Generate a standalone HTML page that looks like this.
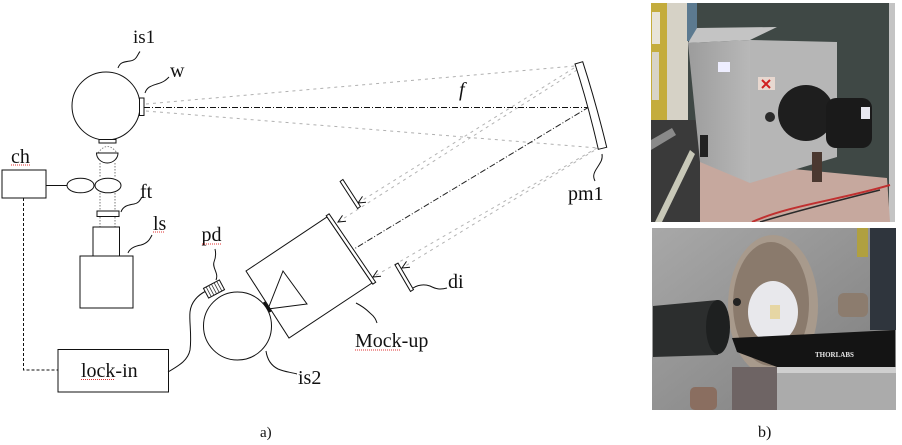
<!DOCTYPE html>
<html><head><meta charset="utf-8"><style>
html,body{margin:0;padding:0;background:#fff;}
svg{display:block;}
text{font-family:"Liberation Serif",serif;fill:#111;}
</style></head><body>
<svg width="902" height="445" viewBox="0 0 902 445" xmlns="http://www.w3.org/2000/svg">
<defs>
<clipPath id="c1"><rect x="651" y="3" width="244" height="219"/></clipPath>
<clipPath id="c2"><rect x="652" y="228" width="244" height="182"/></clipPath>
<linearGradient id="g2" x1="0" y1="0" x2="1" y2="1"><stop offset="0" stop-color="#a8a8a8"/><stop offset="1" stop-color="#7c7c7c"/></linearGradient>
<linearGradient id="gb" x1="0" y1="0" x2="1" y2="0"><stop offset="0" stop-color="#9c9c9c"/><stop offset="1" stop-color="#b8b8b8"/></linearGradient>
</defs>
<rect width="902" height="445" fill="#fff"/>

<!-- rays w -> mirror -->
<g fill="none" stroke-width="1">
<path d="M146,104 L575,66" stroke="#b0b0b0" stroke-dasharray="3 4"/>
<path d="M146,111 L598,148" stroke="#b0b0b0" stroke-dasharray="3 4"/>
<path d="M144,107.5 L588,107.5" stroke="#111" stroke-dasharray="6 2 1 2"/>
<!-- reflected -->
<path d="M574,68 L358,203" stroke="#b4b4b4" stroke-dasharray="3 4"/>
<path d="M577,70 L338,222" stroke="#b4b4b4" stroke-dasharray="3 4"/>
<path d="M597,148 L373,277" stroke="#b4b4b4" stroke-dasharray="3 4"/>
<path d="M600,147 L402,268" stroke="#b4b4b4" stroke-dasharray="3 4"/>
<path d="M589,107 L354,249" stroke="#222" stroke-dasharray="6 2 1 2"/>
</g>

<g fill="none" stroke="#111" stroke-width="1">
<!-- arrowheads -->
<path d="M366,202.2 L358,203 L362.5,196.4"/>
<path d="M346,221.2 L338,222 L342.5,215.4"/>
<path d="M381,276.2 L373,277 L377.5,270.4"/>
<path d="M410,267.2 L402,268 L406.5,261.4"/>

<!-- pm1 mirror -->
<path d="M575,64 Q588,104 598.3,149.3 L606.7,147.3 Q596,103 582.7,61.7 Z" fill="#fff"/>

<!-- is1 -->
<circle cx="106" cy="106" r="34" fill="#fff"/>
<rect x="139.5" y="98" width="4.5" height="17.5" fill="#fff"/>
<rect x="99" y="139.5" width="17" height="3.5" fill="#fff"/>
<!-- lens -->
<path d="M98,153 Q107.5,140 117,153" stroke="#888" stroke-dasharray="1.5 1.5"/>
<path d="M96.5,153 L118,153 A10.75,10 0 0 1 96.5,153 Z" fill="#fff"/>
<!-- dotted beams -->
<g stroke="#777" stroke-dasharray="1.5 1.5">
<path d="M100,163 V178 M115,163 V178 M100,193 V211 M115,193 V211 M100,217 V227 M115,217 V227"/>
</g>
<ellipse cx="80.5" cy="185.5" rx="13.5" ry="7.3"/>
<ellipse cx="108" cy="185.5" rx="13" ry="7.3"/>
<path d="M45.7,185.5 L67,185.5"/>
<rect x="2" y="170" width="44" height="28"/>
<path d="M23.5,198 V370 H58" stroke-dasharray="3 2"/>
<rect x="97" y="211" width="22" height="5.5"/>
<rect x="93" y="227" width="26.5" height="29"/>
<rect x="80" y="256" width="53" height="52"/>
<rect x="58" y="349.5" width="110.5" height="42.5"/>
<path d="M168,372 C180,365 188,360 190,350 C192,335 189,322 190,312 C191,302 198,295 206,291"/>

<!-- is2 -->
<circle cx="237.5" cy="326" r="34"/>
<!-- pd -->
<g transform="translate(214,289) rotate(-28)">
<rect x="-9" y="-5.5" width="18" height="11" fill="#fff"/>
<path d="M-6,-5.5 L-6,5.5 M-3,-5.5 L-3,5.5 M0,-5.5 L0,5.5 M3,-5.5 L3,5.5 M6,-5.5 L6,5.5" stroke="#333" stroke-width="0.8"/>
</g>

<!-- mock-up -->
<polygon points="246,271 327,217 372,283 289,338" fill="#fff"/>
<polygon points="326.2,215.8 329.1,213.8 375.7,282.2 372.8,284.2" fill="#fff"/>
<polygon points="283,271 307,304 268,309"/>
<path d="M264,302 L270.5,312" stroke-width="2.5"/>

<!-- di plates -->
<polygon points="340.1,181.5 342.9,179.5 360.4,206.5 357.6,208.5" fill="#fff"/>
<polygon points="395,264.9 398,263.1 413.5,289.6 410.5,291.4" fill="#fff"/>

<!-- leaders -->
<path d="M118,68 C120,62 124,62 130,61 C137,60 137,55 140,51.5"/>
<path d="M145,93 C147,87 151,86 157,84 C164,82 166,80 169,77"/>
<path d="M121,212 C123,206 128,205 134,204 C139,203 140,200 142,197"/>
<path d="M128,253 C130,248 135,246 141,245 C148,243 150,239 152,235"/>
<path d="M216,280 C219,273 212,268 214,262 C216,257 216,253 215,249"/>
<path d="M356,303 C362,306 366,309 370,313 C375,317 376,320 377,323"/>
<path d="M266,351 C267,358 270,365 278,369 C285,372 290,372 297,374"/>
<path d="M413,288 C418,285 424,284 430,286 C436,289 440,290 447,288"/>
<path d="M602,154 C603,160 600,163 597,168 C593,174 593,177 595,181"/>
</g>

<!-- labels -->
<g font-size="20">
<text x="133" y="43" font-size="19">is1</text>
<text x="170" y="77">w</text>
<text x="11" y="163">ch</text>
<text x="140" y="198">ft</text>
<text x="153" y="230">ls</text>
<text x="201.5" y="241">pd</text>
<text x="81" y="377">lock-in</text>
<text x="355" y="347">Mock-up</text>
<text x="298" y="384">is2</text>
<text x="448" y="288">di</text>
<text x="568" y="200">pm1</text>
<text x="459" y="96" font-style="italic">f</text>
<text x="260" y="437" font-size="15">a)</text>
<text x="758" y="437" font-size="16">b)</text>
</g>
<!-- spellcheck squiggles -->
<g stroke="#e03030" stroke-width="1" stroke-dasharray="1 1" fill="none">
<path d="M11,165 H30 M153,232 H164 M202,244 H222 M81,379.5 H115 M355,350 H400"/>
</g>

<!-- Photo 1 -->
<g clip-path="url(#c1)">
<rect x="651" y="3" width="244" height="219" fill="#3f4845"/>
<rect x="651" y="3" width="17" height="120" fill="#c4ac3c"/>
<rect x="652" y="12" width="8" height="32" fill="#e8e4d8"/>
<rect x="652" y="52" width="7" height="48" fill="#d8d4c8"/>
<rect x="667" y="3" width="21" height="128" fill="#d6d2c6"/>
<rect x="687" y="3" width="10" height="38" fill="#5c7a90"/>
<rect x="889" y="3" width="6" height="219" fill="#c4c4c4"/>
<rect x="651" y="120" width="50" height="102" fill="#3a3a3a"/>
<polygon points="651,150 676,135 672,128 651,140" fill="#8a8a8a"/>
<polygon points="655,222 690,150 695,154 662,222" fill="#c8c8b8"/>
<polygon points="700,160 887,178 890,222 700,222" fill="#c6a89e"/>
<polygon points="697,28 777,27 750,40 688,43" fill="#c4c4c4"/>
<polygon points="688,43 750,40 750,183 700,162" fill="url(#gb)"/>
<polygon points="750,40 837,42 837,157 750,183" fill="#b6b6b6"/>
<rect x="700" y="135" width="8" height="22" fill="#222"/>
<rect x="758" y="77" width="17" height="13" fill="#e8d8d0"/>
<path d="M762,80 L770,88 M770,80 L762,88" stroke="#d02020" stroke-width="2"/>
<rect x="718" y="62" width="12" height="10" fill="#eef"/>
<circle cx="770" cy="117" r="5" fill="#2a2a2a"/>
<circle cx="806" cy="113" r="28" fill="#1e1e1e"/>
<rect x="826" y="98" width="46" height="50" rx="10" fill="#1a1a1a"/>
<rect x="861" y="107" width="9" height="12" fill="#e8e8f0"/>
<rect x="812" y="152" width="10" height="30" fill="#4a3830"/>
<path d="M752,222 C790,205 840,200 890,185" stroke="#c03030" stroke-width="2" fill="none"/>
<path d="M760,222 C800,210 840,200 880,190" stroke="#2a2a2a" stroke-width="1.5" fill="none"/>
</g>

<!-- Photo 2 -->
<g clip-path="url(#c2)">
<rect x="652" y="228" width="244" height="182" fill="url(#g2)"/>
<rect x="870" y="228" width="26" height="102" fill="#2f353d"/>
<rect x="857" y="228" width="11" height="29" fill="#b0a040"/>
<ellipse cx="773" cy="306" rx="45" ry="71" fill="#a89a8c"/>
<ellipse cx="771" cy="304" rx="38" ry="62" fill="#8a7a6c"/>
<ellipse cx="773" cy="312" rx="25" ry="31" fill="#e8e8ec"/>
<rect x="770" y="305" width="10" height="14" fill="#e6d6a4"/>
<circle cx="737" cy="302" r="4" fill="#222"/>
<rect x="838" y="293" width="30" height="24" rx="6" fill="#8c7c6e"/>
<path d="M653,306 L718,300 Q732,322 718,355 L653,357 Z" fill="#2c2e2e"/>
<ellipse cx="718" cy="327" rx="12" ry="27" fill="#1e2020"/>
<polygon points="732,338 895,330 895,367 777,367 737,352" fill="#141414"/>
<text x="815" y="357" font-family="Liberation Sans,sans-serif" font-size="7" font-weight="bold" style="fill:#e8e8e8">THORLABS</text>
<rect x="777" y="367" width="119" height="43" fill="#ababab"/>
<rect x="777" y="367" width="119" height="6" fill="#cfcfcf"/>
<rect x="732" y="367" width="45" height="43" fill="#6e6464"/>
<rect x="690" y="387" width="27" height="23" rx="5" fill="#8a6e60"/>
</g>
</svg>
</body></html>
